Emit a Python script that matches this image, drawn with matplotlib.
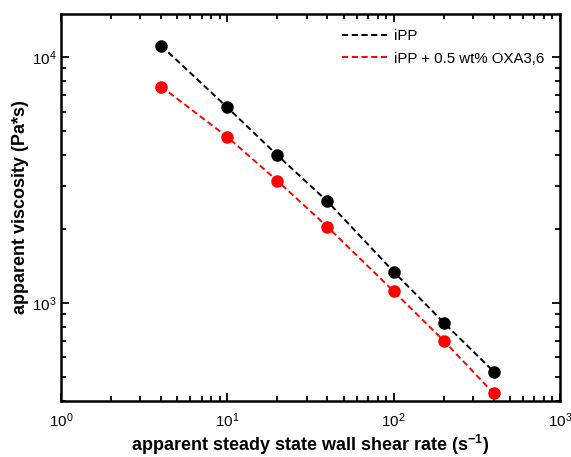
import matplotlib
matplotlib.use("Agg")
import matplotlib.pyplot as plt
from matplotlib.ticker import LogLocator, NullFormatter

plt.rcParams['font.family'] = ['Liberation Sans', 'DejaVu Sans']
plt.rcParams['mathtext.fontset'] = 'custom'
plt.rcParams['mathtext.rm'] = 'Liberation Sans'
plt.rcParams['mathtext.it'] = 'Liberation Sans:italic'
plt.rcParams['mathtext.bf'] = 'Liberation Sans:bold'

shear_rate = [4, 10, 20, 40, 100, 200, 400]
visc_ipp = [11150, 6250, 3990, 2590, 1340, 832, 525]
visc_oxa = [7600, 4740, 3140, 2040, 1115, 702, 428]
labels = ['iPP', 'iPP + 0.5 wt% OXA3,6']

fig = plt.figure(figsize=(5.71, 4.57), dpi=100)
ax = fig.add_axes([0.1068, 0.1232, 0.8739, 0.8462])

ax.plot(shear_rate, visc_ipp, color='black', ls=(0, (3.2, 1.8)), lw=1.4, label=labels[0])
ax.plot(shear_rate, visc_oxa, color='#ff0000', ls=(0, (3.2, 1.8)), lw=1.4, label=labels[1])
ax.plot(shear_rate, visc_ipp, 'o', color='black', ms=8, ls='none')
ax.plot(shear_rate, visc_oxa, 'o', color='#ff0000', ms=8, ls='none')

ax.set_xscale('log')
ax.set_yscale('log')
ax.set_xlim(1, 1000)
ax.set_ylim(400, 15000)

ax.xaxis.set_minor_locator(LogLocator(base=10, subs=range(2, 10)))
ax.yaxis.set_minor_locator(LogLocator(base=10, subs=range(2, 10)))
ax.xaxis.set_minor_formatter(NullFormatter())
ax.yaxis.set_minor_formatter(NullFormatter())

ax.tick_params(which='both', direction='in', top=True, right=True, width=1.3, labelsize=11)
ax.tick_params(which='major', length=5.5)
ax.tick_params(which='minor', length=3.5)
ax.tick_params(axis='x', which='major', pad=8)
ax.tick_params(axis='y', which='major', pad=3)
for s in ax.spines.values():
    s.set_linewidth(1.8)

ax.set_xlabel(r'apparent steady state wall shear rate (s$^{\mathbf{-1}}$)', fontsize=13, fontweight='bold', labelpad=2)
ax.set_ylabel('apparent viscosity (Pa*s)', fontsize=13, fontweight='bold', labelpad=2)

leg = ax.legend(loc='upper right', frameon=False, fontsize=10.8, handlelength=3.0,
                handletextpad=0.45, borderaxespad=0.5, labelspacing=0.55,
                bbox_to_anchor=(0.995, 0.995))

fig.savefig('out.png', dpi=100)
